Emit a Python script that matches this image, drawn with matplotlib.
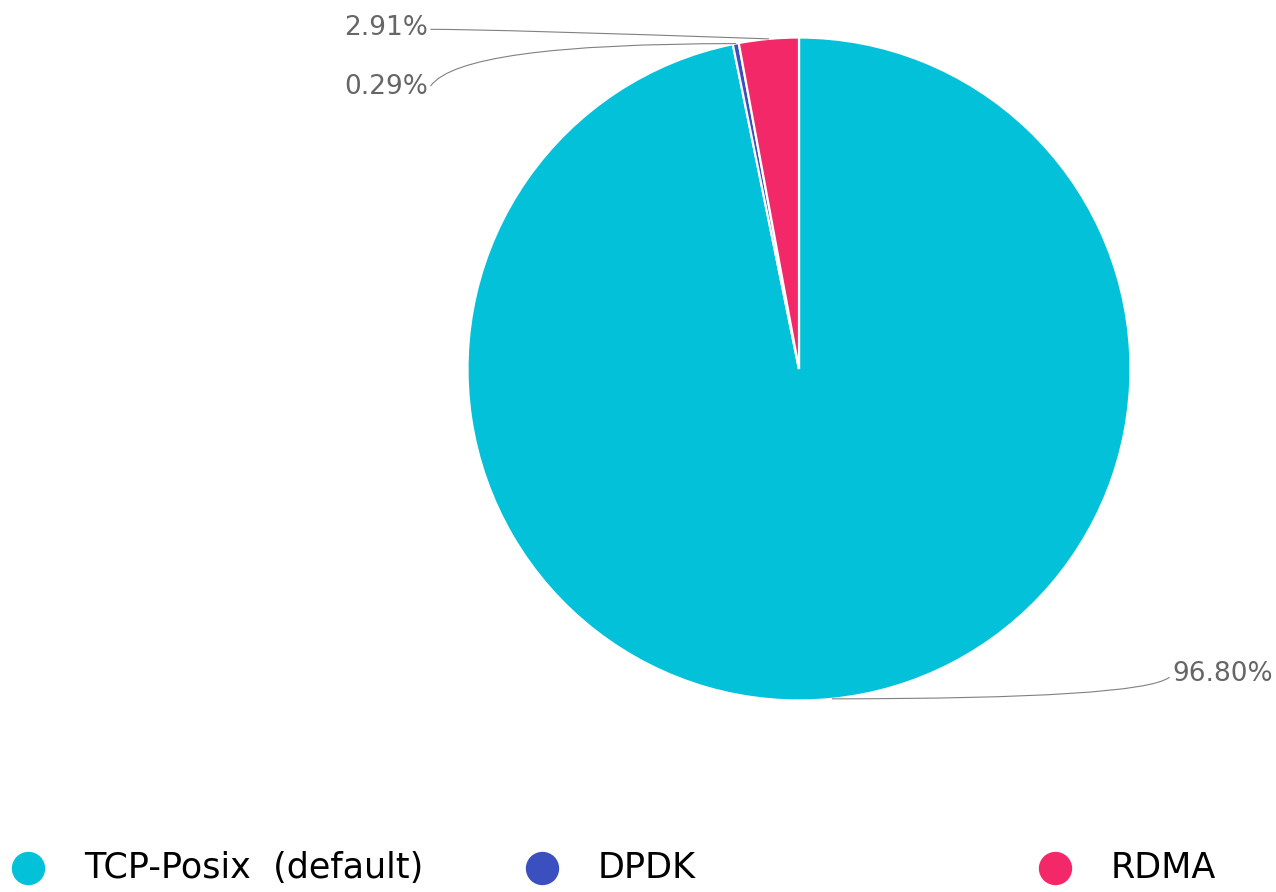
import numpy as np
import matplotlib.pyplot as plt
from matplotlib.lines import Line2D

labels = ["TCP-Posix  (default)", "DPDK", "RDMA"]
values = [96.80, 0.29, 2.91]
colors = ["#03C1D9", "#3B4FBF", "#F22868"]

W, H = 1276, 892
fig = plt.figure(figsize=(W / 100, H / 100), dpi=100)

# pie centre (799, 369) px from top-left, radius 331 px
cx, cy, r = 799, H - 369, 331.5
ax = fig.add_axes([(cx - r) / W, (cy - r) / H, 2 * r / W, 2 * r / H])
wedges, _ = ax.pie(values, colors=colors, startangle=90, counterclock=False,
                   wedgeprops=dict(edgecolor="white", linewidth=1.6))
ax.set_xlim(-1, 1)
ax.set_ylim(-1, 1)
ax.set_aspect("equal")
ax.axis("off")

# label positions (figure pixels) and leader line shapes
label_pos = [(1172, H - 674), (428, H - 87), (428, H - 28)]
label_ha = ["left", "right", "right"]
label_rel = [(0, 0.5), (1, 0.35), (1, 0.45)]
conn = ["angle3,angleA=72,angleB=0",
        "angle3,angleA=70,angleB=0",
        "angle3,angleA=0,angleB=-2"]

for i, w in enumerate(wedges):
    ang = np.deg2rad((w.theta1 + w.theta2) / 2)
    ax.annotate(f"{values[i]:.2f}%", xy=(np.cos(ang), np.sin(ang)),
                xytext=label_pos[i], textcoords="figure pixels",
                ha=label_ha[i], va="center", fontsize=19, color="#666666",
                arrowprops=dict(arrowstyle="-", color="#808080", lw=0.8,
                                shrinkA=0, shrinkB=0, relpos=label_rel[i],
                                connectionstyle=conn[i]),
                annotation_clip=False)

# legend row
for i, name in enumerate(labels):
    x0 = 28 + i * 513.5
    fig.add_artist(Line2D([x0 / W], [24 / H], marker="o", markersize=23,
                          color=colors[i], linestyle="none",
                          transform=fig.transFigure))
    fig.text((x0 + 56) / W, 24 / H, name, fontsize=25.2, color="black",
             ha="left", va="center")

fig.savefig("out.png", dpi=100)
